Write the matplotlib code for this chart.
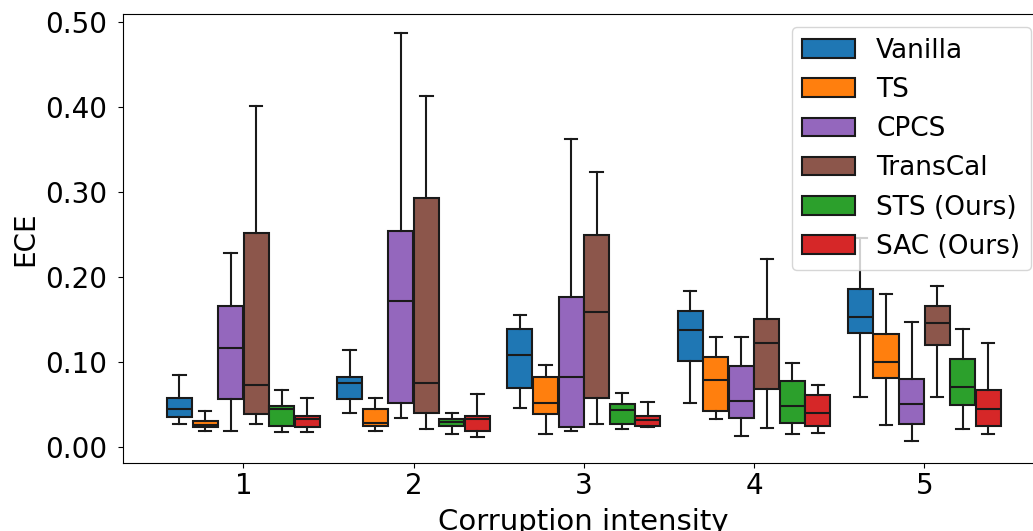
import matplotlib
matplotlib.use("Agg")
import matplotlib.pyplot as plt
from matplotlib.patches import Patch

intensities = ["1", "2", "3", "4", "5"]
methods = ["Vanilla", "TS", "CPCS", "TransCal", "STS (Ours)", "SAC (Ours)"]
colors = ["#1f77b4", "#ff7f0e", "#9467bd", "#8c564b", "#2ca02c", "#d62728"]

# per method: one [whislo, q1, median, q3, whishi] per corruption intensity
vanilla = [
    [0.0274, 0.0353, 0.0450, 0.0576, 0.0850],
    [0.0407, 0.0564, 0.0752, 0.0830, 0.1144],
    [0.0466, 0.0697, 0.1080, 0.1390, 0.1550],
    [0.0517, 0.1011, 0.1375, 0.1606, 0.1837],
    [0.0595, 0.1340, 0.1528, 0.1857, 0.2459],
]
ts = [
    [0.0195, 0.0235, 0.0262, 0.0309, 0.0423],
    [0.0195, 0.0250, 0.0289, 0.0447, 0.0576],
    [0.0153, 0.0388, 0.0521, 0.0826, 0.0964],
    [0.0329, 0.0423, 0.0791, 0.1061, 0.1293],
    [0.0262, 0.0811, 0.1006, 0.1336, 0.1798],
]
cpcs = [
    [0.0195, 0.0568, 0.1164, 0.1665, 0.2280],
    [0.0348, 0.0524, 0.1723, 0.2543, 0.4866],
    [0.0192, 0.0235, 0.0830, 0.1763, 0.3624],
    [0.0133, 0.0348, 0.0540, 0.0959, 0.1293],
    [0.0074, 0.0270, 0.0505, 0.0807, 0.1469],
]
transcal = [
    [0.0270, 0.0388, 0.0732, 0.2516, 0.4010],
    [0.0212, 0.0405, 0.0752, 0.2927, 0.4130],
    [0.0270, 0.0580, 0.1587, 0.2499, 0.3236],
    [0.0231, 0.0682, 0.1222, 0.1508, 0.2213],
    [0.0595, 0.1203, 0.1458, 0.1665, 0.1896],
]
sts = [
    [0.0176, 0.0250, 0.0450, 0.0482, 0.0677],
    [0.0156, 0.0250, 0.0294, 0.0329, 0.0407],
    [0.0212, 0.0270, 0.0442, 0.0513, 0.0635],
    [0.0153, 0.0289, 0.0482, 0.0776, 0.0987],
    [0.0211, 0.0497, 0.0713, 0.1042, 0.1390],
]
sac = [
    [0.0176, 0.0235, 0.0333, 0.0364, 0.0580],
    [0.0118, 0.0195, 0.0333, 0.0368, 0.0623],
    [0.0235, 0.0254, 0.0321, 0.0364, 0.0536],
    [0.0172, 0.0250, 0.0407, 0.0615, 0.0732],
    [0.0153, 0.0250, 0.0447, 0.0674, 0.1222],
]
all_data = [vanilla, ts, cpcs, transcal, sts, sac]

plt.rcParams['font.family'] = ['DejaVu Sans']
fig = plt.figure(figsize=(10.33, 5.31), dpi=100)
W, H = 1033, 531
left, right, top, bottom = 123.3, 1044.0, 14.0, 462.7
ax = fig.add_axes([left / W, 1 - bottom / H, (right - left) / W, (bottom - top) / H])

slot = 0.15
edge = "#1a1a1a"
for j, (name, col, data) in enumerate(zip(methods, colors, all_data)):
    stats = []
    for vals in data:
        lo, q1, med, q3, hi = vals
        stats.append(dict(whislo=lo, q1=q1, med=med, q3=q3, whishi=hi, fliers=[]))
    pos = [i + 1 + (j - 2.5) * slot for i in range(len(intensities))]
    ax.bxp(stats, positions=pos, widths=slot * 0.98, patch_artist=True,
           showfliers=False, manage_ticks=False,
           boxprops=dict(facecolor=col, edgecolor=edge, linewidth=1.5),
           medianprops=dict(color=edge, linewidth=1.5),
           whiskerprops=dict(color=edge, linewidth=1.5),
           capprops=dict(color=edge, linewidth=1.5))

ax.set_xlim(0.295, 5.703)
ax.set_ylim(-0.018, 0.509)
ax.set_xticks(range(1, len(intensities) + 1))
ax.set_xticklabels(intensities)
ax.set_yticks([0.0, 0.1, 0.2, 0.3, 0.4, 0.5])
ax.set_yticklabels(["0.00", "0.10", "0.20", "0.30", "0.40", "0.50"])
ax.tick_params(axis="x", labelsize=20, pad=3.0)
ax.tick_params(axis="y", labelsize=20, pad=8.0)
ax.set_xlabel("Corruption intensity", fontsize=21, labelpad=6)
ax.set_ylabel("ECE", fontsize=20, labelpad=4)

handles = [Patch(facecolor=c, edgecolor=edge, linewidth=1.5, label=m) for m, c in zip(methods, colors)]
ax.legend(handles=handles, loc="upper right", fontsize=19)

fig.savefig("out.png", dpi=100)
